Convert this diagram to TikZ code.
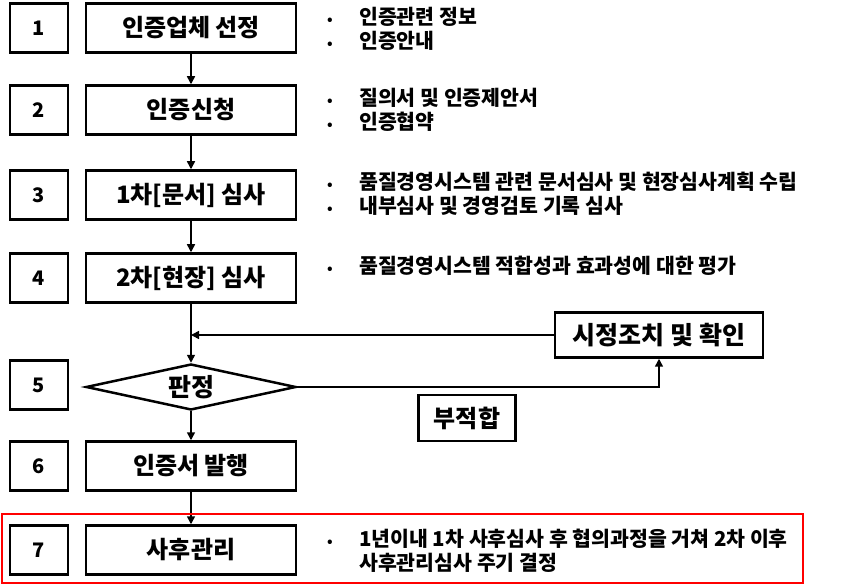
\documentclass[tikz,border=0pt]{standalone}
\usepackage{fontspec}
\setmainfont{Noto Sans CJK KR}
\usetikzlibrary{shapes.geometric,arrows.meta}

\tikzset{
  numbox/.style={draw, line width=2.5pt, minimum width=58pt, minimum height=49pt, inner sep=0pt, font=\bfseries\fontsize{20}{24}\selectfont},
  stepbox/.style={draw, line width=2.5pt, minimum width=210pt, minimum height=49pt, inner sep=0pt, font=\bfseries\fontsize{24}{28}\selectfont},
  note/.style={anchor=west, align=left, inner sep=0pt, font=\bfseries\fontsize{20.5}{24}\selectfont},
  flow/.style={line width=1.5pt, -{Triangle[length=8pt,width=8pt]}}
}
\newcommand{\bul}{\makebox[32pt][l]{{\fontsize{14}{14}\selectfont •}}}

\begin{document}
\begin{tikzpicture}[x=1pt, y=-1pt]
\useasboundingbox (0,0) rectangle (841,585);
		\node[numbox] (n1) at (39,28) {1};
		\node[stepbox] (s1) at (191,28) {인증업체 선정};
		\node[numbox] (n2) at (39,110) {2};
		\node[stepbox] (s2) at (191,110) {인증신청};
		\node[numbox] (n3) at (39,195) {3};
		\node[stepbox] (s3) at (191,195) {1차[문서] 심사};
		\node[numbox] (n4) at (39,278) {4};
		\node[stepbox] (s4) at (191,278) {2차[현장] 심사};
		\node[numbox] (n5) at (39,385) {5};
		\node[draw, diamond, line width=2.5pt, minimum width=210pt, minimum height=46pt, inner sep=0pt, aspect=4.5, font=\bfseries\fontsize{25}{28}\selectfont] (judge) at (191,387) {판정};
		\node[numbox] (n6) at (39,466) {6};
		\node[stepbox] (s6) at (191,466) {인증서 발행};
		\node[numbox] (n7) at (39,550) {7};
		\node[stepbox] (s7) at (191,550) {사후관리};
		\node[draw, line width=2.5pt, minimum width=208pt, minimum height=45pt, inner sep=0pt, font=\bfseries\fontsize{25}{28}\selectfont] (fix) at (659,335) {시정조치 및 확인};
		\node[draw, line width=2.5pt, minimum width=97pt, minimum height=46pt, inner sep=0pt, font=\bfseries\fontsize{24}{28}\selectfont] (nc) at (467,418) {부적합};

		\node[note] (b1) at (327,29) {\bul 인증관련 정보\\ \bul 인증안내};
		\node[note] (b2) at (327,110) {\bul 질의서 및 인증제안서\\ \bul 인증협약};
		\node[note] (b3) at (327,194) {\bul 품질경영시스템 관련 문서심사 및 현장심사계획 수립\\ \bul 내부심사 및 경영검토 기록 심사};
		\node[note] (b4) at (327,266) {\bul 품질경영시스템 적합성과 효과성에 대한 평가};
		\node[note] (b7) at (327,551) {\bul 1년이내 1차 사후심사 후 협의과정을 거쳐 2차 이후\\ \hspace*{32pt}사후관리심사 주기 결정};

		\draw[flow] (s1) -- (s2);
		\draw[flow] (s2) -- (s3);
		\draw[flow] (s3) -- (s4);
		\draw[flow] (s4) -- (judge);
		\coordinate (join) at (s4 |- fix);
		\draw[flow] (fix) -- (join);
		\draw[flow] (judge.east) -| (fix.south);
		\draw[flow] (judge) -- (s6);
		\draw[flow] (s6) -- (s7);

		\draw[red, line width=2.5pt] (2,514) rectangle (803,583);
\end{tikzpicture}
\end{document}
